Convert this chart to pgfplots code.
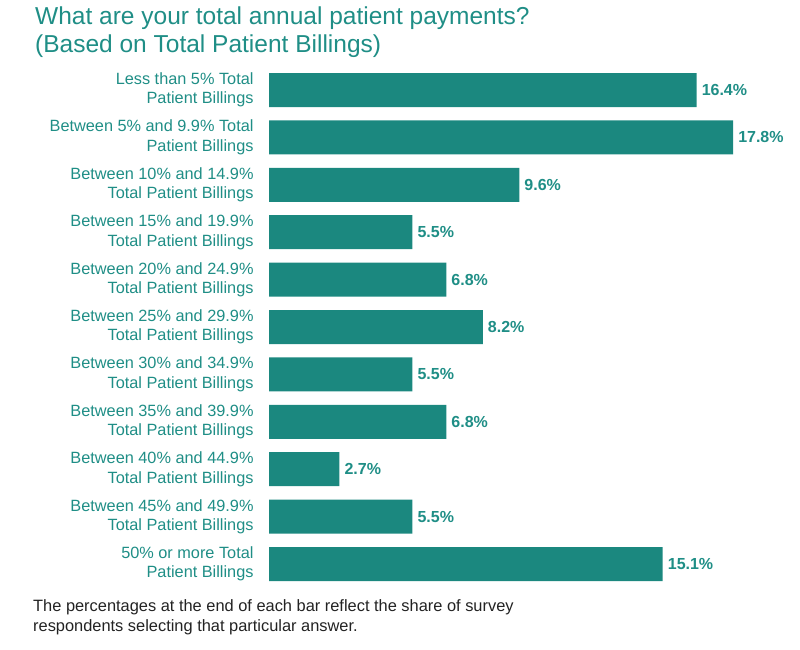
\documentclass[border=0pt]{standalone}
\usepackage{pgfplots}
\pgfplotsset{compat=1.18}
\usepackage{fontspec}
\setmainfont{Liberation Sans}

\definecolor{barteal}{HTML}{1B887F}
\definecolor{textteal}{HTML}{1F8E86}
\definecolor{notegray}{HTML}{222222}

\begin{document}
\begin{tikzpicture}[x=1pt,y=1pt]
  \path[use as bounding box] (0,0) rectangle (800,-649);

  % title
  \node[anchor=base west, inner sep=0pt, text=textteal,
        font=\fontsize{24.5}{28}\selectfont] at (35,-24)
        {What are your total annual patient payments?};
  \node[anchor=base west, inner sep=0pt, text=textteal,
        font=\fontsize{24.5}{28}\selectfont] at (35,-52)
        {(Based on Total Patient Billings)};

  \begin{axis}[
      at={(269pt,-587.7pt)}, anchor=south west,
      scale only axis,
      width=521.4pt, height=521.4pt,
      xmin=0, xmax=20,
      ymin=-0.5, ymax=10.5,
      xbar, bar width=34pt,
      axis line style={draw=none},
      major tick style={draw=none},
      xtick=\empty,
      ytick={0,...,10},
      yticklabels={
        {50\% or more Total\\Patient Billings},
        {Between 45\% and 49.9\%\\Total Patient Billings},
        {Between 40\% and 44.9\%\\Total Patient Billings},
        {Between 35\% and 39.9\%\\Total Patient Billings},
        {Between 30\% and 34.9\%\\Total Patient Billings},
        {Between 25\% and 29.9\%\\Total Patient Billings},
        {Between 20\% and 24.9\%\\Total Patient Billings},
        {Between 15\% and 19.9\%\\Total Patient Billings},
        {Between 10\% and 14.9\%\\Total Patient Billings},
        {Between 5\% and 9.9\% Total\\Patient Billings},
        {Less than 5\% Total\\Patient Billings}},
      yticklabel style={font=\fontsize{16.3}{19.3}\selectfont, text=textteal,
        align=right, inner sep=0pt, xshift=-11pt},
      /pgf/number format/assume math mode=true,
      nodes near coords={\pgfmathprintnumber[fixed,precision=1,fixed zerofill]{\pgfplotspointmeta}\%},
      nodes near coords style={font=\fontsize{16}{19}\selectfont\bfseries,
        text=textteal, anchor=west, inner sep=0pt, xshift=5pt},
      clip=false,
    ]
    \addplot[fill=barteal, draw=none] coordinates {
      (16.4,10) (17.8,9) (9.6,8) (5.5,7) (6.8,6) (8.2,5)
      (5.5,4) (6.8,3) (2.7,2) (5.5,1) (15.1,0)
    };
  \end{axis}

  % note
  \node[anchor=base west, inner sep=0pt, text=notegray,
        font=\fontsize{16.4}{20}\selectfont] at (33,-611)
        {The percentages at the end of each bar reflect the share of survey};
  \node[anchor=base west, inner sep=0pt, text=notegray,
        font=\fontsize{16.4}{20}\selectfont] at (33,-631)
        {respondents selecting that particular answer.};
\end{tikzpicture}
\end{document}
